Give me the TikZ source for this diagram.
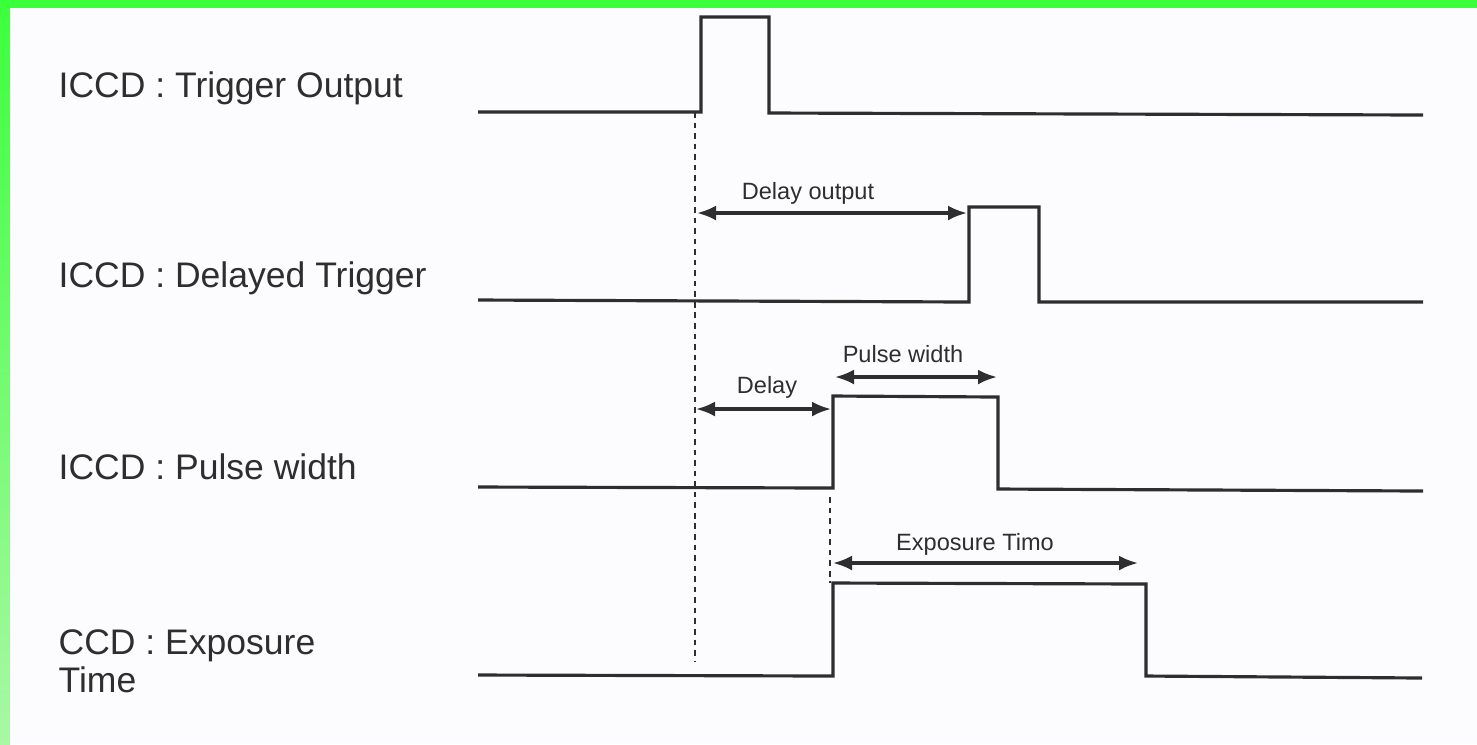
\documentclass[tikz,border=0pt]{standalone}
\usepackage{fontspec}
\setmainfont{Liberation Sans}
\usetikzlibrary{arrows.meta}
\definecolor{framegreen}{HTML}{3CFF3C}
\definecolor{framepale}{HTML}{A8F8A4}
\definecolor{paper}{HTML}{FCFCFE}
\definecolor{ink}{HTML}{2E2E2E}
\begin{document}
\begin{tikzpicture}[x=0.01cm, y=-0.01cm,
    wave/.style  = {draw=ink, line width=0.9pt, line join=miter},
    span/.style  = {draw=ink, line width=0.9pt, {Latex[length=1.9mm,width=1.5mm]}-{Latex[length=1.9mm,width=1.5mm]}},
    guide/.style = {draw=ink, line width=0.8pt, dash pattern=on 1.6pt off 1.4pt},
    sig/.style   = {anchor=base west, inner sep=0pt, font=\fontsize{10.1}{10.8}\selectfont, text=ink},
    tag/.style   = {anchor=base, inner sep=0pt, font=\fontsize{6.7}{8}\selectfont, text=ink}]
    % paper and frame
    \fill[paper] (0,0) rectangle (1477,744);
    \shade[top color=framegreen, bottom color=framepale] (0,0) rectangle (10,744);
    \fill[framegreen] (0,0) rectangle (1477,8);

    % signal names
    \node[sig] (trigname)   at (58,97)  {ICCD : Trigger Output};
    \node[sig] (delayname)  at (58,287) {ICCD : Delayed Trigger};
    \node[sig] (pulsename)  at (58,479) {ICCD : Pulse width};
    \node[sig, anchor=north west, align=left] (exposename) at (58,629) {CCD : Exposure\\Time};

    % waveforms
    \draw[wave] (478,112) -- (701,112) -- (701,17)  -- (769,17)  -- (769,113) -- (1423,115);
    \draw[wave] (478,300) -- (969,302) -- (969,207) -- (1039,207) -- (1039,302) -- (1423,302);
    \draw[wave] (478,487) -- (833,488) -- (833,396) -- (998,397) -- (998,489) -- (1423,491);
    \draw[wave] (478,675) -- (833,676) -- (833,583) -- (1146,584) -- (1146,676) -- (1422,678);

    % time marks
    \coordinate (trig)     at (695,112);
    \coordinate (trigend)  at (695,662);
    \coordinate (gate)     at (830,497);
    \coordinate (gateend)  at (830,583);
    \draw[guide] (trig) -- (trigend);
    \draw[guide] (gate) -- (gateend);

    \coordinate (dlyoutA) at (697,213);
    \coordinate (dlyoutB) at (967,213);
    \coordinate (dlyA)    at (696,409);
    \coordinate (dlyB)    at (831,409);
    \coordinate (pwA)     at (835,377);
    \coordinate (pwB)     at (997,377);
    \coordinate (expA)    at (833,563);
    \coordinate (expB)    at (1138,563);

    \draw[span] (dlyoutA) -- (dlyoutB);
    \draw[span] (dlyA) -- (dlyB);
    \draw[span] (pwA) -- (pwB);
    \draw[span] (expA) -- (expB);

    \node[tag] (dlyouttag) at (808,199) {Delay output};
    \node[tag] (dlytag)    at (767,393) {Delay};
    \node[tag] (pwtag)     at (903,362) {Pulse width};
    \node[tag] (exptag)    at (975,550) {Exposure Timo};
\end{tikzpicture}
\end{document}
